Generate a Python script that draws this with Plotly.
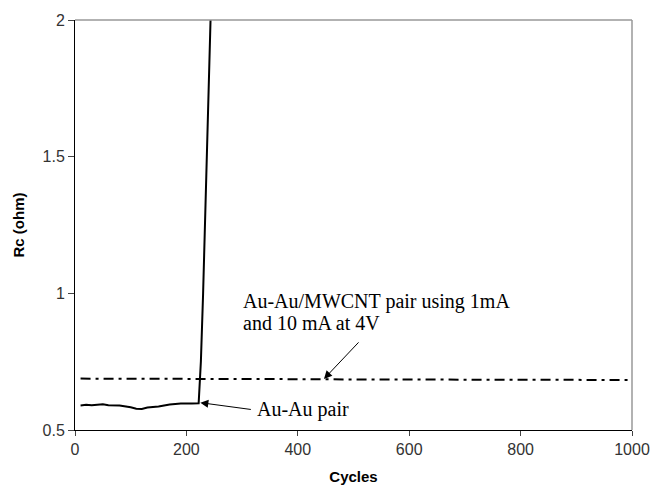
import plotly.graph_objects as go

# Au-Au pair (solid)
auau_x = [10, 20, 30, 40, 50, 60, 80, 100, 110, 120, 130, 150, 170, 190, 200, 210, 222, 226, 230, 234, 238, 243, 246]
auau_y = [0.590, 0.592, 0.591, 0.592, 0.594, 0.591, 0.590, 0.583, 0.578, 0.577, 0.582, 0.586, 0.593, 0.597, 0.596, 0.597, 0.598, 0.75, 1.0, 1.3, 1.6, 2.0, 2.2]

# Au-Au/MWCNT pair (dashed)
cnt_x = [10, 100, 200, 300, 400, 500, 600, 700, 800, 900, 1000]
cnt_y = [0.688, 0.688, 0.687, 0.686, 0.686, 0.685, 0.685, 0.684, 0.684, 0.683, 0.683]

x_ticks = [0, 200, 400, 600, 800, 1000]
y_ticks = [0.5, 1, 1.5, 2]
y_tick_text = ["0.5", "1", "1.5", "2"]

fig = go.Figure()
fig.add_trace(go.Scatter(x=cnt_x, y=cnt_y, mode="lines",
                         line=dict(color="black", width=2, dash="10px,5px,3px,5px"), showlegend=False))
fig.add_trace(go.Scatter(x=auau_x, y=auau_y, mode="lines",
                         line=dict(color="black", width=2), showlegend=False))

tickfont = dict(family="Liberation Sans, Arial", size=16, color="#333333")
serif = dict(family="Liberation Serif, Times New Roman", size=20, color="black")
fig.update_layout(
    width=662, height=495,
    margin=dict(l=75, r=23, t=14, b=64),
    paper_bgcolor="white", plot_bgcolor="white",
    xaxis=dict(range=[0, 1000], tickvals=x_ticks, ticks="outside", ticklen=5,
               showgrid=False, zeroline=False, showline=True, linecolor="black", linewidth=1,
               tickfont=tickfont,
               title=dict(text="<b>Cycles</b>", font=dict(family="Liberation Sans, Arial", size=15, color="black"), standoff=14)),
    yaxis=dict(range=[0.5, 2], tickvals=y_ticks, ticktext=y_tick_text, ticks="outside", ticklen=6,
               showgrid=False, zeroline=False, showline=True, linecolor="black", linewidth=1,
               tickfont=tickfont,
               title=dict(text="<b>Rc (ohm)</b>", font=dict(family="Liberation Sans, Arial", size=15, color="black"), standoff=14)),
    shapes=[
        dict(type="line", xref="paper", yref="paper", x0=0, x1=1, y0=1, y1=1, line=dict(color="#999999", width=1.5)),
        dict(type="line", xref="paper", yref="paper", x0=1, x1=1, y0=0, y1=1, line=dict(color="#999999", width=1.5)),
    ],
    annotations=[
        dict(x=225, y=0.6, xref="x", yref="y", ax=52, ay=7, showarrow=True, arrowhead=2, arrowsize=1.6,
             arrowwidth=1, arrowcolor="black", text="", standoff=0),
        dict(x=323, y=0.5755, xref="x", yref="y", showarrow=False, xanchor="left", yanchor="middle",
             text="Au-Au pair", font=serif),
        dict(x=447, y=0.687, xref="x", yref="y", ax=36, ay=-38, showarrow=True, arrowhead=2, arrowsize=1.6,
             arrowwidth=1, arrowcolor="black", text="", standoff=0),
        dict(x=298, y=0.971, xref="x", yref="y", showarrow=False, xanchor="left", yanchor="middle",
             text="Au-Au/MWCNT pair using 1mA", font=serif),
        dict(x=298, y=0.892, xref="x", yref="y", showarrow=False, xanchor="left", yanchor="middle",
             text="and 10 mA at 4V", font=serif),
    ],
)

fig.write_html("out.html")
